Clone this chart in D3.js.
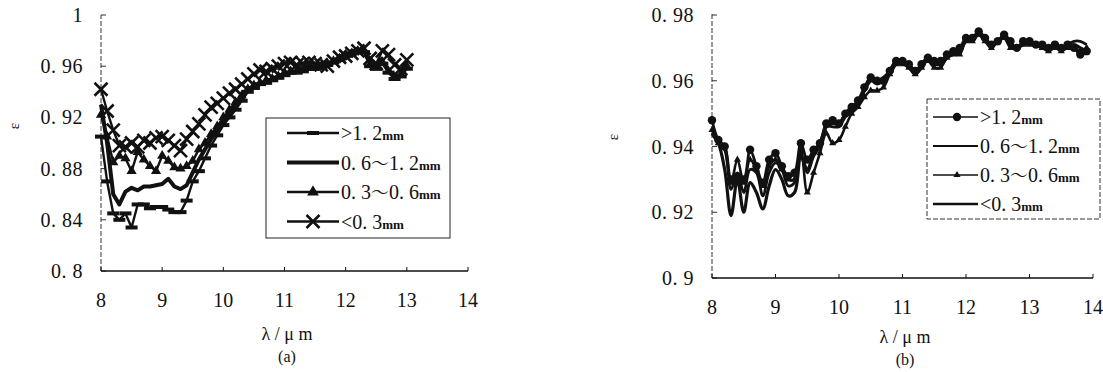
<!DOCTYPE html>
<html>
<head>
<meta charset="utf-8">
<script src="https://cdn.jsdelivr.net/npm/d3@7"></script>
<style>
  body { margin: 0; background: #fff; }
  svg { display: block; }
</style>
</head>
<body>
<svg id="chart" width="1103" height="372"></svg>
<script>
// ---- panel (a) ----
const lambdaA = d3.range(51).map(i => +(8 + i * 0.1).toFixed(1));
const a_gt12 = [.905,.870,.845,.840,.845,.834,.852,.852,.849,.850,.850,.848,.846,.846,.855,.870,.878,.888,.898,.906,
  .914,.920,.926,.933,.940,.943,.946,.947,.949,.951,.953,.955,.955,.956,.958,.958,.959,.961,.963,.965,
  .968,.970,.972,.971,.960,.958,.962,.955,.950,.952,.958];
const a_06_12 = [.930,.900,.860,.852,.862,.865,.863,.866,.866,.867,.868,.872,.866,.864,.867,.877,.887,.895,.903,.910,
  .917,.923,.929,.935,.941,.944,.946,.948,.950,.952,.954,.955,.956,.957,.958,.959,.960,.961,.963,.966,
  .968,.970,.972,.972,.962,.960,.964,.957,.952,.953,.960];
const a_03_06 = [.922,.905,.885,.890,.888,.878,.893,.887,.882,.878,.890,.886,.881,.880,.882,.886,.895,.900,.907,.913,
  .920,.926,.932,.937,.942,.945,.947,.949,.950,.952,.955,.956,.956,.957,.959,.959,.960,.962,.964,.966,
  .969,.970,.972,.972,.961,.959,.963,.956,.951,.953,.960];
const a_lt03 = [.942,.925,.910,.898,.897,.900,.897,.902,.900,.904,.905,.902,.898,.894,.903,.909,.915,.922,.928,.931,
  .935,.939,.942,.946,.950,.954,.957,.956,.958,.960,.962,.963,.961,.962,.963,.962,.961,.960,.964,.967,
  .968,.970,.972,.974,.966,.962,.972,.969,.961,.958,.965];
const xTicksA = [8, 9, 10, 11, 12, 13, 14];
const yTicksA = [0.8, 0.84, 0.88, 0.92, 0.96, 1];

// ---- panel (b) ----
const lambdaB = d3.range(60).map(i => +(8 + i * 0.1).toFixed(1));
const b_gt12 = [.948,.942,.940,.930,.931,.930,.939,.934,.929,.936,.938,.934,.931,.932,.941,.936,.939,.941,.947,.948,
  .947,.950,.952,.954,.958,.961,.960,.960,.963,.966,.966,.965,.963,.965,.967,.966,.966,.968,.969,.970,
  .973,.973,.975,.973,.971,.972,.974,.972,.970,.972,.972,.971,.971,.970,.971,.970,.971,.970,.968,.969];
const b_06_12 = [.944,.941,.939,.927,.932,.926,.933,.932,.925,.932,.935,.933,.928,.929,.938,.932,.937,.940,.946,.946,
  .946,.949,.951,.953,.957,.960,.959,.960,.962,.965,.966,.964,.962,.964,.967,.965,.965,.967,.968,.969,
  .972,.973,.974,.972,.971,.972,.973,.971,.970,.971,.972,.971,.970,.970,.970,.970,.971,.972,.972,.971];
const b_03_06 = [.945,.941,.940,.929,.936,.929,.936,.933,.928,.934,.936,.933,.930,.930,.939,.926,.932,.938,.944,.941,
  .942,.946,.950,.952,.955,.957,.957,.958,.962,.965,.965,.964,.962,.964,.966,.964,.964,.967,.968,.968,
  .972,.972,.974,.972,.970,.972,.973,.970,.970,.971,.971,.971,.970,.969,.970,.969,.970,.970,.969,.970];
const b_lt03 = [.944,.941,.933,.919,.930,.920,.929,.926,.921,.928,.933,.930,.925,.926,.937,.933,.938,.941,.946,.947,
  .947,.950,.952,.953,.957,.960,.960,.961,.963,.966,.966,.965,.963,.965,.967,.966,.965,.967,.969,.970,
  .972,.973,.974,.973,.971,.972,.973,.971,.970,.971,.972,.971,.970,.970,.971,.970,.970,.971,.970,.969];
const xTicksB = [8, 9, 10, 11, 12, 13, 14];
const yTicksB = [0.9, 0.92, 0.94, 0.96, 0.98];

// legend labels: [before tilde, after tilde]
const legendNames = [[">1. 2", null], ["0. 6", "1. 2"], ["0. 3", "0. 6"], ["<0. 3", null]];

const FONT = "Liberation Serif";
const CJK = "Noto Serif CJK SC";
const svg = d3.select("#chart");
const fmtTick = d => String(+d.toFixed(2)).replace(".", ". ");

function txt(g) {
  return g.append("text").attr("font-family", FONT).attr("fill", "#111");
}

function drawAxes(g, x, y, xTicks, yTicks, yTop) {
  const [x0, x1] = x.range();
  const y0 = y.range()[0];
  // y axis (dashed, as in the scan)
  g.append("line").attr("x1", x0).attr("x2", x0).attr("y1", y0).attr("y2", yTop)
    .attr("stroke", "#333").attr("stroke-width", 1).attr("stroke-dasharray", "5,2");
  yTicks.forEach(t => {
    g.append("line").attr("x1", x0).attr("x2", x0 + 5).attr("y1", y(t)).attr("y2", y(t))
      .attr("stroke", "#333").attr("stroke-width", 1);
    txt(g).attr("x", x0 - 18).attr("y", y(t) + 7).attr("text-anchor", "end")
      .attr("font-size", 20).attr("letter-spacing", 0.5).text(fmtTick(t));
  });
  // x axis
  g.append("line").attr("x1", x0).attr("x2", x1).attr("y1", y0).attr("y2", y0)
    .attr("stroke", "#111").attr("stroke-width", 1.5);
  xTicks.forEach(t => {
    g.append("line").attr("x1", x(t)).attr("x2", x(t)).attr("y1", y0).attr("y2", y0 - 4)
      .attr("stroke", "#111").attr("stroke-width", 1);
    txt(g).attr("x", x(t)).attr("y", y0 + 36).attr("text-anchor", "middle")
      .attr("font-size", 20).text(t);
  });
}

function addLabels(cx, eX, eY, titleY, subY, sub) {
  txt(svg).attr("transform", `translate(${eX},${eY}) rotate(-90)`)
    .attr("text-anchor", "middle").attr("font-size", 15).text("ε");
  txt(svg).attr("x", cx).attr("y", titleY).attr("text-anchor", "middle")
    .attr("font-size", 18).text("λ / μ m");
  txt(svg).attr("x", cx).attr("y", subY).attr("text-anchor", "middle")
    .attr("font-size", 16).text(sub);
}

function legendText(g, x, y, name) {
  const t = txt(g).attr("x", x).attr("y", y + 7).attr("font-size", 20);
  t.append("tspan").text(name[0]);
  if (name[1]) {
    t.append("tspan").attr("font-family", CJK).attr("font-size", 18).text("～");
    t.append("tspan").text(name[1]);
  }
  t.append("tspan").attr("font-size", 13).attr("font-weight", "bold").text("mm");
}

function drawMarker(g, type, cx, cy, s) {
  if (type === "bar") {
    g.append("rect").attr("x", cx - 6).attr("y", cy - 2).attr("width", 12).attr("height", 4).attr("fill", "#111");
  } else if (type === "tri") {
    g.append("path").attr("d", d3.symbol(d3.symbolTriangle, s || 45)()).attr("transform", `translate(${cx},${cy})`).attr("fill", "#111");
  } else if (type === "x") {
    const r = 6.5;
    g.append("path").attr("d", `M${cx - r},${cy - r}L${cx + r},${cy + r}M${cx - r},${cy + r}L${cx + r},${cy - r}`)
      .attr("stroke", "#111").attr("stroke-width", 2.6);
  } else if (type === "dot") {
    g.append("circle").attr("cx", cx).attr("cy", cy).attr("r", s || 4.2).attr("fill", "#111");
  } else if (type === "smalltri") {
    g.append("path").attr("d", d3.symbol(d3.symbolTriangle, s || 22)()).attr("transform", `translate(${cx},${cy})`).attr("fill", "#111");
  }
}

// ===== panel (a) =====
const xA = d3.scaleLinear().domain([8, 14]).range([101, 468]);
const yA = d3.scaleLinear().domain([0.8, 1]).range([271, 15]);
const gA = svg.append("g");
drawAxes(gA, xA, yA, xTicksA, yTicksA, 15);
addLabels(287, 19, 126, 340, 362, "(a)");

const lineA = d3.line().x((d, i) => xA(lambdaA[i])).y(d => yA(d));
const seriesA = [
  { v: a_gt12, w: 2.4, marker: "bar" },
  { v: a_06_12, w: 4, marker: null },
  { v: a_03_06, w: 2.4, marker: "tri" },
  { v: a_lt03, w: 2.4, marker: "x" }
];

seriesA.forEach(s => {
  gA.append("path").datum(s.v).attr("d", lineA).attr("fill", "none")
    .attr("stroke", "#111").attr("stroke-width", s.w).attr("stroke-linejoin", "round");
  if (s.marker) s.v.forEach((d, i) => drawMarker(gA, s.marker, xA(lambdaA[i]), yA(d)));
});

// legend (a)
const lgA = svg.append("g");
lgA.append("rect").attr("x", 266).attr("y", 118).attr("width", 184).attr("height", 120)
  .attr("fill", "#fff").attr("stroke", "#222").attr("stroke-width", 1);
seriesA.forEach((s, i) => {
  const ly = 133 + i * 29.5;
  lgA.append("line").attr("x1", 287).attr("x2", 339).attr("y1", ly).attr("y2", ly)
    .attr("stroke", "#111").attr("stroke-width", s.w);
  if (s.marker) drawMarker(lgA, s.marker, 313, ly, 60);
  legendText(lgA, 341, ly, legendNames[i]);
});

// ===== panel (b) =====
const xB = d3.scaleLinear().domain([8, 14]).range([712, 1093]);
const yB = d3.scaleLinear().domain([0.9, 0.98]).range([278, 15]);
const gB = svg.append("g");
drawAxes(gB, xB, yB, xTicksB, yTicksB, 13);
addLabels(905, 618, 137, 343, 365, "(b)");

const lineB = d3.line().x((d, i) => xB(lambdaB[i])).y(d => yB(d)).curve(d3.curveCatmullRom.alpha(0.5));
const seriesB = [
  { v: b_lt03, w: 3.2, marker: null },
  { v: b_06_12, w: 2.8, marker: null },
  { v: b_03_06, w: 2.6, marker: "smalltri" },
  { v: b_gt12, w: 2.8, marker: "dot" }
];
seriesB.forEach(s => {
  gB.append("path").datum(s.v).attr("d", lineB).attr("fill", "none")
    .attr("stroke", "#111").attr("stroke-width", s.w).attr("stroke-linejoin", "round");
  if (s.marker) s.v.forEach((d, i) => drawMarker(gB, s.marker, xB(lambdaB[i]), yB(d)));
});

// legend (b)
const legendB = [
  { w: 1.5, marker: "dot" },
  { w: 2.2, marker: null },
  { w: 1.5, marker: "smalltri" },
  { w: 2.6, marker: null }
];
const lgB = svg.append("g");
lgB.append("rect").attr("x", 927).attr("y", 99).attr("width", 173).attr("height", 120)
  .attr("fill", "#fff").attr("stroke", "#333").attr("stroke-width", 1).attr("stroke-dasharray", "5,2");
legendB.forEach((s, i) => {
  const ly = 117 + i * 29;
  lgB.append("line").attr("x1", 933).attr("x2", 978).attr("y1", ly).attr("y2", ly)
    .attr("stroke", "#111").attr("stroke-width", s.w);
  if (s.marker) drawMarker(lgB, s.marker, 957, ly, s.marker === "dot" ? 4.2 : 22);
  legendText(lgB, 980, ly, legendNames[i]);
});
</script>
</body>
</html>
